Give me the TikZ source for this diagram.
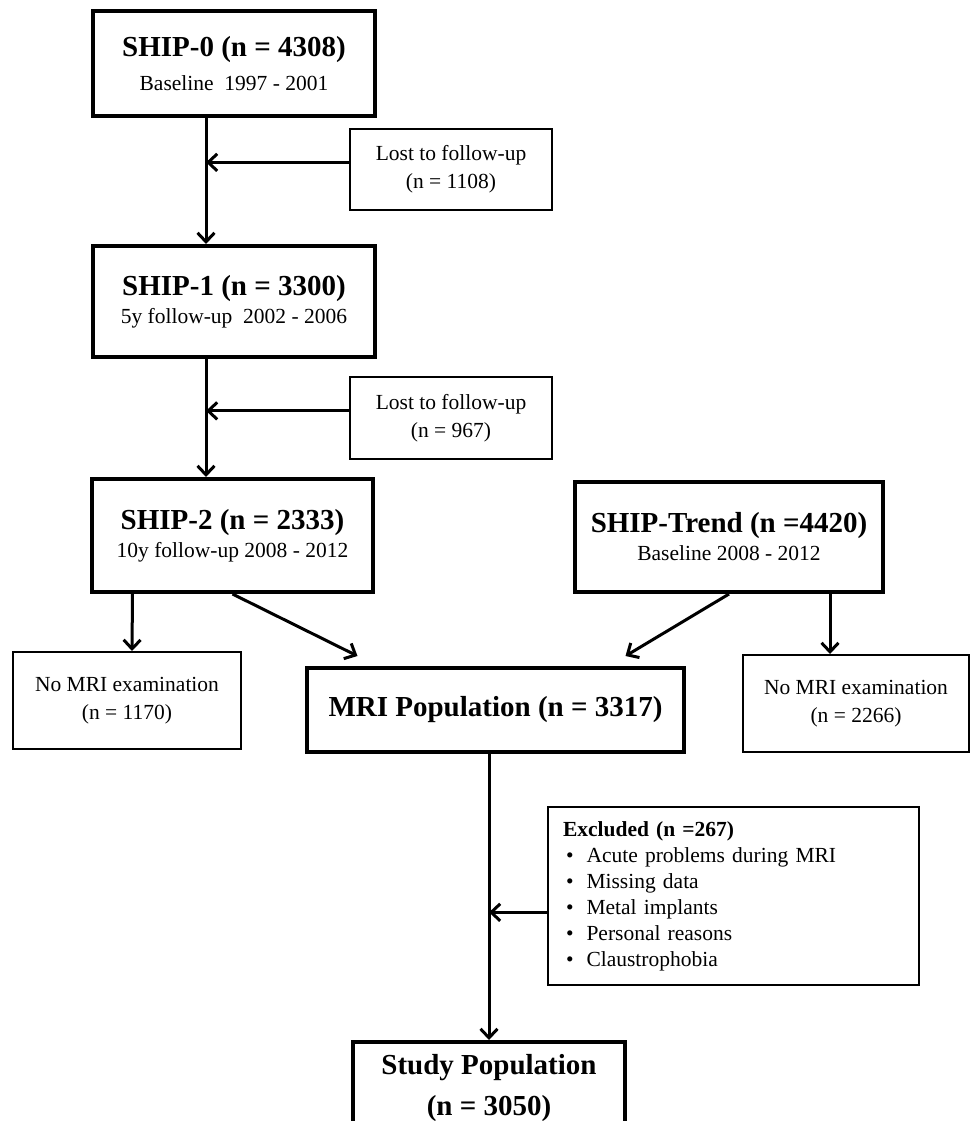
\documentclass[tikz,border=0pt]{standalone}
\usepackage{fontspec}
\setmainfont{Liberation Serif}
\usetikzlibrary{arrows.meta}
\newcommand{\headfont}{\fontsize{29}{33}\selectfont\bfseries}
\newcommand{\sidefont}{\fontsize{21.5}{28}\selectfont}

\begin{document}
\begin{tikzpicture}[x=1pt,y=-1pt,>={Straight Barb[length=9pt,width=17pt]},
  mainbox/.style={draw, line width=4pt, inner sep=0pt, align=center, font=\sidefont},
  sidebox/.style={draw, line width=2pt, inner sep=0pt, align=center, font=\sidefont},
  flow/.style={->, line width=3pt}]

\useasboundingbox (0,0) rectangle (970,1121);

% define the cohort boxes
  \node[mainbox, minimum width=282pt, minimum height=105pt] (ship0) at (234,63.5)
{{\headfont SHIP-0 (n = 4308)}\\[6.5pt] Baseline\ \ 1997 - 2001};
  \node[mainbox, minimum width=282pt, minimum height=111pt] (ship1) at (234,301.5)
{{\headfont SHIP-1 (n = 3300)}\\ 5y follow-up\ \ 2002 - 2006};
  \node[mainbox, minimum width=281pt, minimum height=113pt] (ship2) at (232.5,535.5)
{{\headfont SHIP-2 (n = 2333)}\\ 10y follow-up 2008 - 2012};
  \node[mainbox, minimum width=308pt, minimum height=110pt] (trend) at (729,537)
{{\headfont SHIP-Trend (n =4420)}\\ Baseline 2008 - 2012};
  \node[mainbox, minimum width=377pt, minimum height=84pt] (mri) at (495.5,710)
{\headfont MRI Population (n = 3317)};
  \node[mainbox, minimum width=272pt, minimum height=92pt, font=\headfont] (study) at (489,1088)
{Study Population\\[8pt] (n = 3050)};

% define the side boxes
  \node[sidebox, minimum width=202pt, minimum height=81pt] (lost1) at (451,169.5)
{Lost to follow-up\\ (n = 1108)};
  \node[sidebox, minimum width=202pt, minimum height=82pt] (lost2) at (451,418)
{Lost to follow-up\\ (n = 967)};
  \node[sidebox, minimum width=228pt, minimum height=97pt] (nomri1) at (127,700.5)
{No MRI examination\\ (n = 1170)};
  \node[sidebox, minimum width=226pt, minimum height=97pt] (nomri2) at (856,703.5)
{No MRI examination\\ (n = 2266)};
  \node[sidebox, align=left, inner xsep=15pt, text width=341pt, minimum height=178pt] (excl) at (733.5,896)
{\noindent\fontsize{21.5}{26}\selectfont
\begin{tabular}{@{}l@{\hspace{13pt}}l@{}}
\multicolumn{2}{@{}l}{\textbf{Excluded (n =267)}}\\
\hspace{3pt}\textbullet & Acute problems during MRI\\
\hspace{3pt}\textbullet & Missing data\\
\hspace{3pt}\textbullet & Metal implants\\
\hspace{3pt}\textbullet & Personal reasons\\
\hspace{3pt}\textbullet & Claustrophobia
\end{tabular}};

% define the links
  \coordinate (spine0) at ([xshift=-28pt]ship0.south);
  \coordinate (spine1) at ([xshift=-28pt]ship1.south);
  \draw[flow] (spine0) -- (spine0 |- ship1.north);
  \draw[flow] (lost1.176) -- (lost1.176 -| spine0);
  \draw[flow] (spine1) -- (spine1 |- ship2.north);
  \draw[flow] (lost2.176) -- (lost2.176 -| spine1);
  \draw[flow] ([xshift=-100pt]ship2.south) -- ([xshift=5pt]nomri1.north);
  \draw[flow] (ship2.south) -- ([xshift=-138pt,yshift=10pt]mri.north);
  \draw[flow] (trend.south) -- ([xshift=130pt,yshift=10pt]mri.north);
  \draw[flow] ([xshift=101pt]trend.south) -- ([xshift=-26pt]nomri2.north);
  \draw[flow] (study.north |- mri.south) -- (study.north);
  \draw[flow] (excl.185) -- (excl.185 -| study.north);

\end{tikzpicture}
\end{document}
